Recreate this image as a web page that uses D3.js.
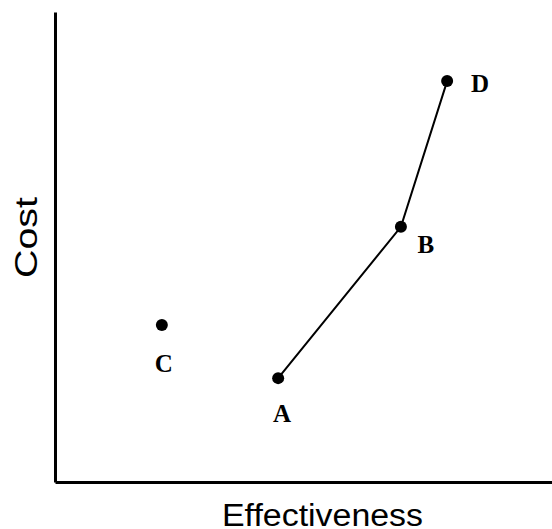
<!doctype html>
<html lang="en">
<head>
    <meta charset="UTF-8">
    <script src="https://d3js.org/d3.v7.min.js"></script>
    <title>Cost vs Effectiveness</title>
    <style>
        body { margin: 0; background: #fff; }
    </style>
</head>
<body>
<div class="container"></div>
<script>
    // du lieu: cac phuong an va toa do (don vi tuy y)
    const names = ['A', 'B', 'C', 'D'];
    const effectiveness = [44.9, 69.6, 21.5, 78.9];
    const cost = [22.1, 54.3, 33.4, 85.3];
    const frontier = ['A', 'B', 'D']; // cac diem noi bang duong

    const W = 552, H = 529;
    const x0 = 55, x1 = 552, yTop = 12, yBot = 482;

    let svg = d3.select('.container')
        .append('svg')
        .attr('width', W)
        .attr('height', H);

    let x = d3.scaleLinear().domain([0, 100]).range([x0, x1]);
    let y = d3.scaleLinear().domain([0, 100]).range([yBot, yTop]);

    // truc
    svg.append('g')
        .attr('transform', 'translate(0,' + yBot + ')')
        .call(d3.axisBottom(x).ticks(0).tickSizeOuter(0))
        .call(g => g.select('.domain').attr('stroke', '#000').attr('stroke-width', 3));
    svg.append('g')
        .attr('transform', 'translate(' + x0 + ',0)')
        .call(d3.axisLeft(y).ticks(0).tickSizeOuter(0))
        .call(g => g.select('.domain').attr('stroke', '#000').attr('stroke-width', 3));

    let pts = names.map((n, i) => ({name: n, x: effectiveness[i], y: cost[i]}));
    let byName = {};
    pts.forEach(p => byName[p.name] = p);

    // duong noi A-B-D
    svg.append('path')
        .datum(frontier.map(n => byName[n]))
        .attr('fill', 'none')
        .attr('stroke', '#000')
        .attr('stroke-width', 2)
        .attr('d', d3.line().x(d => x(d.x)).y(d => y(d.y)));

    svg.selectAll('circle')
        .data(pts)
        .enter()
        .append('circle')
        .attr('cx', d => x(d.x))
        .attr('cy', d => y(d.y))
        .attr('r', 6)
        .attr('fill', '#000');

    // vi tri nhan so voi diem
    const labelOffset = {A: [4, 44], B: [25, 26], C: [2, 47], D: [33, 11]};
    svg.selectAll('text.lbl')
        .data(pts)
        .enter()
        .append('text')
        .attr('class', 'lbl')
        .attr('x', d => x(d.x) + labelOffset[d.name][0])
        .attr('y', d => y(d.y) + labelOffset[d.name][1])
        .attr('text-anchor', 'middle')
        .attr('font-family', '"Liberation Serif", "Times New Roman", serif')
        .attr('font-weight', 'bold')
        .attr('font-size', 25)
        .text(d => d.name);

    // tieu de truc
    svg.append('text')
        .attr('x', 322.5)
        .attr('y', 526)
        .attr('text-anchor', 'middle')
        .attr('font-family', '"Liberation Sans", Arial, sans-serif')
        .attr('font-size', 31)
        .attr('textLength', 201)
        .attr('lengthAdjust', 'spacingAndGlyphs')
        .text('Effectiveness');

    svg.append('text')
        .attr('transform', 'translate(37,237.5) rotate(-90)')
        .attr('text-anchor', 'middle')
        .attr('font-family', '"Liberation Sans", Arial, sans-serif')
        .attr('font-size', 31)
        .attr('textLength', 81)
        .attr('lengthAdjust', 'spacingAndGlyphs')
        .text('Cost');
</script>
</body>
</html>
